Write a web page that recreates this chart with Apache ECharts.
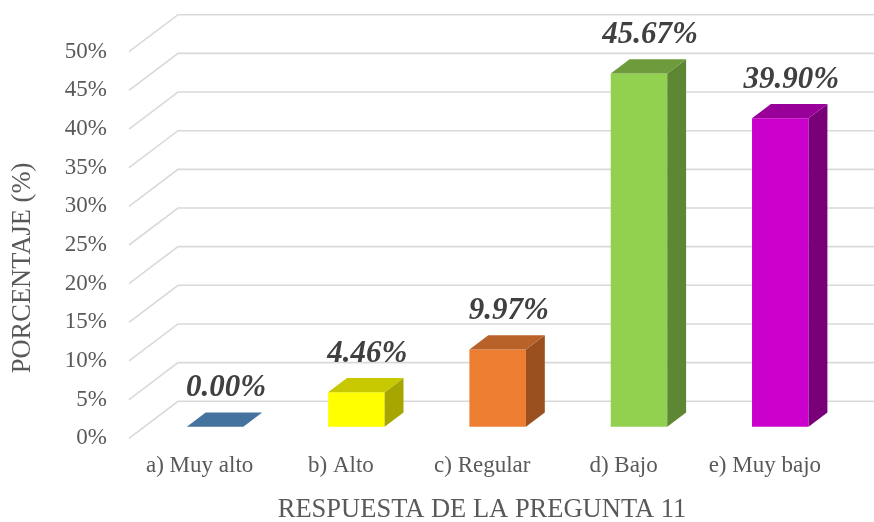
<!DOCTYPE html>
<html><head><meta charset="utf-8">
<script src="https://cdn.jsdelivr.net/npm/echarts@6/dist/echarts.min.js"></script>
<style>html,body{margin:0;padding:0;background:#fff}#c{width:874px;height:522px}</style>
</head><body><div id="c"></div>
<script>
const categories = ['a) Muy alto', 'b) Alto', 'c) Regular', 'd) Bajo', 'e) Muy bajo'];
const values = [0.00, 4.46, 9.97, 45.67, 39.90];
const valueLabels = ['0.00%', '4.46%', '9.97%', '45.67%', '39.90%'];
const yTicks = [0, 5, 10, 15, 20, 25, 30, 35, 40, 45, 50];
const xTitle = 'RESPUESTA DE LA PREGUNTA 11';
const yTitle = 'PORCENTAJE (%)';

const frontColors = ['#5B8FC7', '#FFFF00', '#ED7D31', '#92D050', '#CC00CC'];
const topColors = ['#44739F', '#C8C800', '#B8622A', '#6E9B3C', '#990099'];
const sideColors = ['#3A628A', '#A6A600', '#9A4F1E', '#5D8732', '#7A007A'];

const WALL = [49, -37];
const F1 = 0.315, F2 = 0.70;
const FONT = 'Liberation Serif';

function renderGrid(params, api) {
  const cs = params.coordSys;
  const v = api.value(1);
  const y = api.coord([0, v])[1];
  const x0 = cs.x;
  return {
    type: 'polyline',
    shape: { points: [[x0, y], [x0 + WALL[0], y + WALL[1]], [880, y + WALL[1]]] },
    style: { stroke: '#D9D9D9', lineWidth: 1.6, fill: null }
  };
}

function renderBar(params, api) {
  const i = api.value(0), v = api.value(1);
  const idx = params.dataIndex;
  const top = api.coord([i, v]), base = api.coord([i, 0]);
  const bw = api.size([1, 0])[0] * 0.4;
  const ox = WALL[0] * F1, oy = WALL[1] * F1;
  const dx = WALL[0] * (F2 - F1), dy = WALL[1] * (F2 - F1);
  const xl = top[0] + ox - bw / 2, xr = top[0] + ox + bw / 2;
  const yt = top[1] + oy, yb = base[1] + oy;
  const children = [];
  if (yb - yt > 0.5) {
    children.push({ type: 'rect', shape: { x: xl, y: yt, width: xr - xl, height: yb - yt },
      style: { fill: frontColors[idx] } });
    children.push({ type: 'polygon', shape: { points: [[xr, yt], [xr + dx, yt + dy], [xr + dx, yb + dy], [xr, yb]] },
      style: { fill: sideColors[idx] } });
  }
  children.push({ type: 'polygon', shape: { points: [[xl, yt], [xr, yt], [xr + dx, yt + dy], [xl + dx, yt + dy]] },
    style: { fill: topColors[idx] } });
  children.push({ type: 'text', style: {
    text: valueLabels[idx], x: (xl + xr) / 2 + 11, y: yt + dy - 24,
    align: 'center', verticalAlign: 'middle',
    fontFamily: FONT, fontSize: 31, fontWeight: 'bold', fontStyle: 'italic', fill: '#404040'
  } });
  return { type: 'group', children: children };
}

const chart = echarts.init(document.getElementById('c'), null, { renderer: 'canvas' });
chart.setOption({
  animation: false,
  backgroundColor: '#fff',
  grid: { left: 129, right: 38.5, top: 51.7, bottom: 83.7 },
  xAxis: {
    type: 'category', data: categories,
    axisLine: { show: false }, axisTick: { show: false }, splitLine: { show: false },
    axisLabel: { interval: 0, fontFamily: FONT, fontSize: 23, color: '#595959', margin: 16 }
  },
  yAxis: {
    type: 'value', min: 0, max: 50, interval: 5,
    axisLine: { show: false }, axisTick: { show: false }, splitLine: { show: false },
    axisLabel: { formatter: '{value}%', fontFamily: FONT, fontSize: 23, color: '#595959', margin: 22 }
  },
  graphic: [
    { type: 'text', x: 482, y: 510, style: { text: xTitle, align: 'center', verticalAlign: 'middle',
      fontFamily: FONT, fontSize: 26.5, fill: '#595959' } },
    { type: 'text', x: 23, y: 268, rotation: Math.PI / 2, style: { text: yTitle, align: 'center', verticalAlign: 'middle',
      fontFamily: FONT, fontSize: 26.5, fill: '#595959' } }
  ],
  series: [
    { type: 'custom', renderItem: renderGrid, data: yTicks.map(v => [0, v]), encode: { x: 0, y: 1 }, z: 1, silent: true },
    { type: 'custom', renderItem: renderBar, data: values.map((v, i) => [i, v]), encode: { x: 0, y: 1 }, z: 2 }
  ]
});
</script></body></html>
